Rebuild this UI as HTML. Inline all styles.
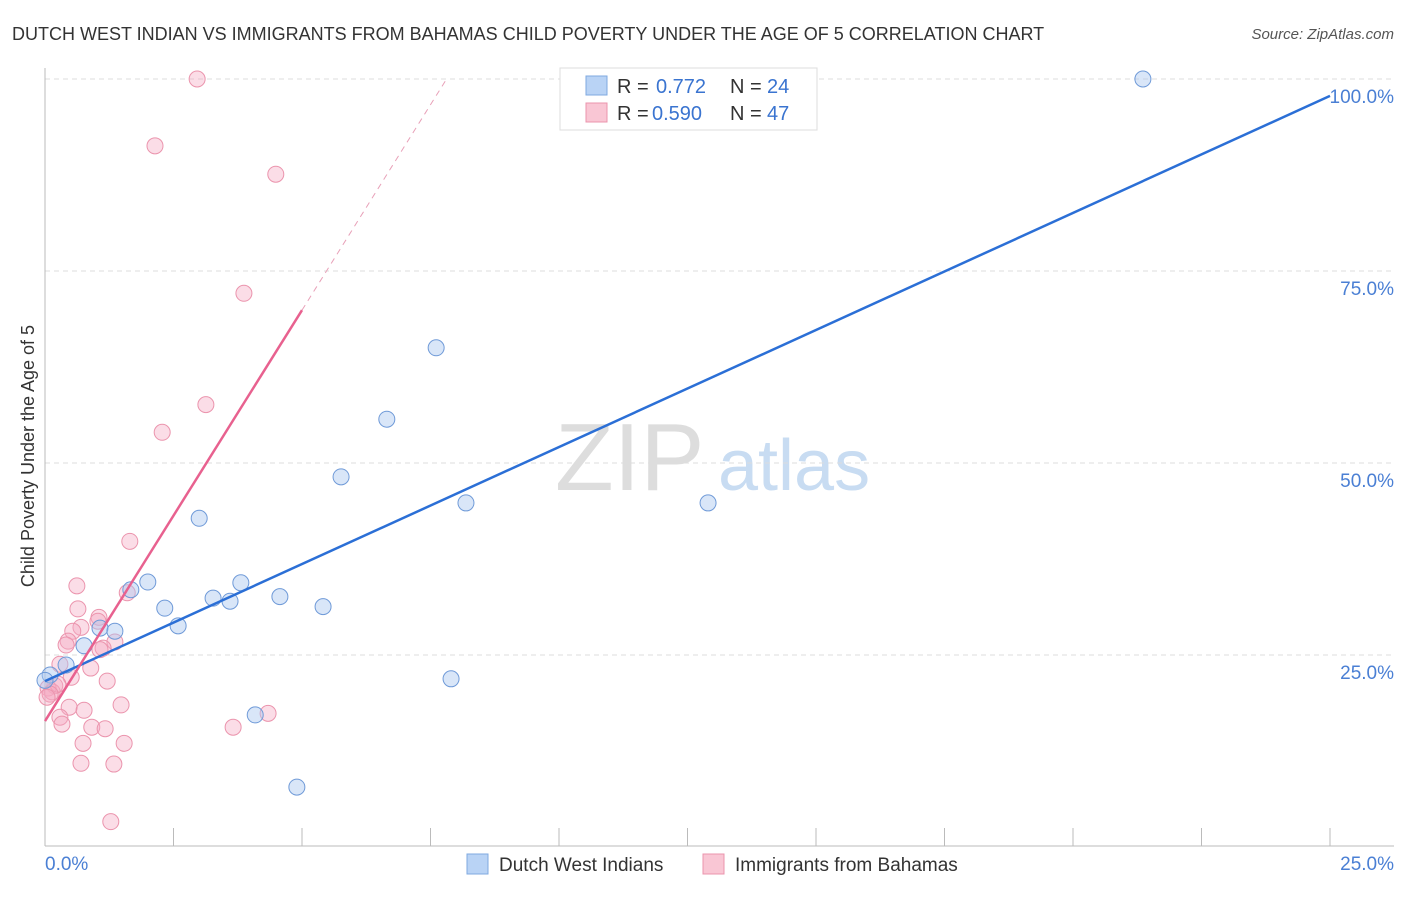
<!DOCTYPE html>
<html><head><meta charset="utf-8"><style>
body{margin:0;background:#fff;font-family:"Liberation Sans",sans-serif;}
svg text{font-family:"Liberation Sans",sans-serif;}
</style></head><body>
<svg id="c" width="1406" height="892" xmlns="http://www.w3.org/2000/svg">
<text x="12" y="40" font-size="18" fill="#333">DUTCH WEST INDIAN VS IMMIGRANTS FROM BAHAMAS CHILD POVERTY UNDER THE AGE OF 5 CORRELATION CHART</text>
<text x="1394" y="39" font-size="15" font-style="italic" fill="#555" text-anchor="end">Source: ZipAtlas.com</text>
<text x="34" y="456" font-size="18" fill="#333" text-anchor="middle" transform="rotate(-90 34 456)">Child Poverty Under the Age of 5</text>
<text x="555" y="490" font-size="96" fill="#ddd" font-family="Liberation Serif">ZIP</text>
<text x="718" y="490" font-size="72" fill="#c8dcf2">atlas</text>
<g id="grid"></g><g id="axes"></g><g id="pts"></g><g id="lines"></g>
<g>
<rect x="560" y="68" width="257" height="62" fill="#fff" stroke="#ddd"/>
<rect x="586" y="76" width="21" height="19" fill="#b9d3f5" stroke="#7fa9e0"/>
<text x="617" y="93" font-size="20" fill="#333">R = </text><text x="656" y="93" font-size="20" fill="#3a74d0">0.772</text>
<text x="730" y="93" font-size="20" fill="#333">N = </text><text x="767" y="93" font-size="20" fill="#3a74d0">24</text>
<rect x="586" y="103" width="21" height="19" fill="#f9c6d4" stroke="#eb94ad"/>
<text x="617" y="120" font-size="20" fill="#333">R = </text><text x="652" y="120" font-size="20" fill="#3a74d0">0.590</text>
<text x="730" y="120" font-size="20" fill="#333">N = </text><text x="767" y="120" font-size="20" fill="#3a74d0">47</text>
</g>
<g>
<rect x="467" y="854" width="21" height="20" fill="#b9d3f5" stroke="#7fa9e0"/>
<text x="499" y="871" font-size="19" fill="#333">Dutch West Indians</text>
<rect x="703" y="854" width="21" height="20" fill="#f9c6d4" stroke="#eb94ad"/>
<text x="735" y="871" font-size="19" fill="#333">Immigrants from Bahamas</text>
</g>
</svg>
<script>
const xTicks=[0,2.5,5,7.5,10,12.5,15,17.5,20,22.5,25];
const yTickVals=[25,50,75,100];
const yTickLabels=["25.0%","50.0%","75.0%","100.0%"];
const blueX=[21.36,7.61,6.65,5.76,8.19,12.9,3.0,2.0,3.81,1.67,2.33,3.27,3.6,4.57,5.41,2.59,1.07,1.36,0.76,0.41,0.1,0,7.9,4.09,4.9];
const blueY=[100,65.0,55.7,48.2,44.8,44.8,42.8,34.5,34.4,33.5,31.1,32.4,32.0,32.6,31.3,28.8,28.5,28.1,26.2,23.7,22.4,21.7,21.9,17.2,7.8];
const pinkX=[2.96,2.14,4.49,3.87,3.13,2.28,1.65,0.62,1.6,0.64,1.05,0.7,0.54,1.03,0.45,0.41,1.36,1.13,1.07,0.89,0.29,0.51,1.21,0.19,0.06,0.14,0.25,0.1,0.04,1.48,0.47,0.76,0.29,4.34,3.66,0.91,1.17,0.74,1.54,0.7,1.34,1.28,0.33];
const pinkY=[100,91.3,87.6,72.1,57.6,54.0,39.8,34.0,33.1,31.0,29.9,28.6,28.1,29.4,26.8,26.3,26.7,25.9,25.7,23.3,23.8,22.1,21.6,21.0,20.7,20.2,21.2,19.9,19.5,18.5,18.2,17.8,16.9,17.4,15.6,15.6,15.4,13.5,13.5,10.9,10.8,3.3,16.0];
const blueLine=[21.6,97.8];   // y at x=0 and x=25
const pinkLine=[16.4,69.9];   // y at x=0 and x=5 (solid), dashed beyond
const NS="http://www.w3.org/2000/svg";
const X=v=>45+v*51.4, Y=v=>847-v*7.68;
function mk(tag,attrs,parent){const e=document.createElementNS(NS,tag);for(const k in attrs)e.setAttribute(k,attrs[k]);document.getElementById(parent).appendChild(e);return e;}
yTickVals.forEach((v,i)=>{
 const l=mk('line',{x1:45,x2:1394,y1:Y(v),y2:Y(v),stroke:'#ddd','stroke-dasharray':'5,4'},'grid');
 
 
 const t=mk('text',{x:1394,y:Y(v)+24,'font-size':19,fill:'#4a7fd4','text-anchor':'end'},'grid');
 t.textContent=yTickLabels[i];
 
 
});
mk('line',{x1:45,x2:45,y1:68,y2:846,stroke:'#bbb'},'axes');
mk('line',{x1:45,x2:1394,y1:846,y2:846,stroke:'#bbb'},'axes');
xTicks.forEach(v=>{const t=mk('line',{x1:X(v),x2:X(v),y1:828,y2:846,stroke:'#bbb'},'axes');
 
 });
const x0=mk('text',{x:45,y:870,'font-size':19,fill:'#4a7fd4'},'axes');x0.textContent='0.0%';


const x1=mk('text',{x:1394,y:870,'font-size':19,fill:'#4a7fd4','text-anchor':'end'},'axes');x1.textContent='25.0%';


pinkX.forEach((v,i)=>{const c=mk('circle',{cx:X(v),cy:Y(pinkY[i]),r:8,fill:'rgba(246,170,195,0.4)',stroke:'#eb94ad','stroke-width':1},'pts');
 
 });
blueX.forEach((v,i)=>{const c=mk('circle',{cx:X(v),cy:Y(blueY[i]),r:8,fill:'rgba(170,200,240,0.45)',stroke:'#6f9ad8','stroke-width':1},'pts');
 
 });
const bl=mk('line',{x1:X(0),y1:Y(blueLine[0]),x2:X(25),y2:Y(blueLine[1]),stroke:'#2b6fd6','stroke-width':2.5},'lines');


const slope=(pinkLine[1]-pinkLine[0])/5;
const pl=mk('line',{x1:X(0),y1:Y(pinkLine[0]),x2:X(5),y2:Y(pinkLine[1]),stroke:'#e8618f','stroke-width':2.5},'lines');


const xEnd=(100-pinkLine[0])/slope;
const pd=mk('line',{x1:X(5),y1:Y(pinkLine[1]),x2:X(xEnd),y2:Y(100),stroke:'#e8a0b8','stroke-width':1,'stroke-dasharray':'6,5'},'lines');


</script>
</body></html>
